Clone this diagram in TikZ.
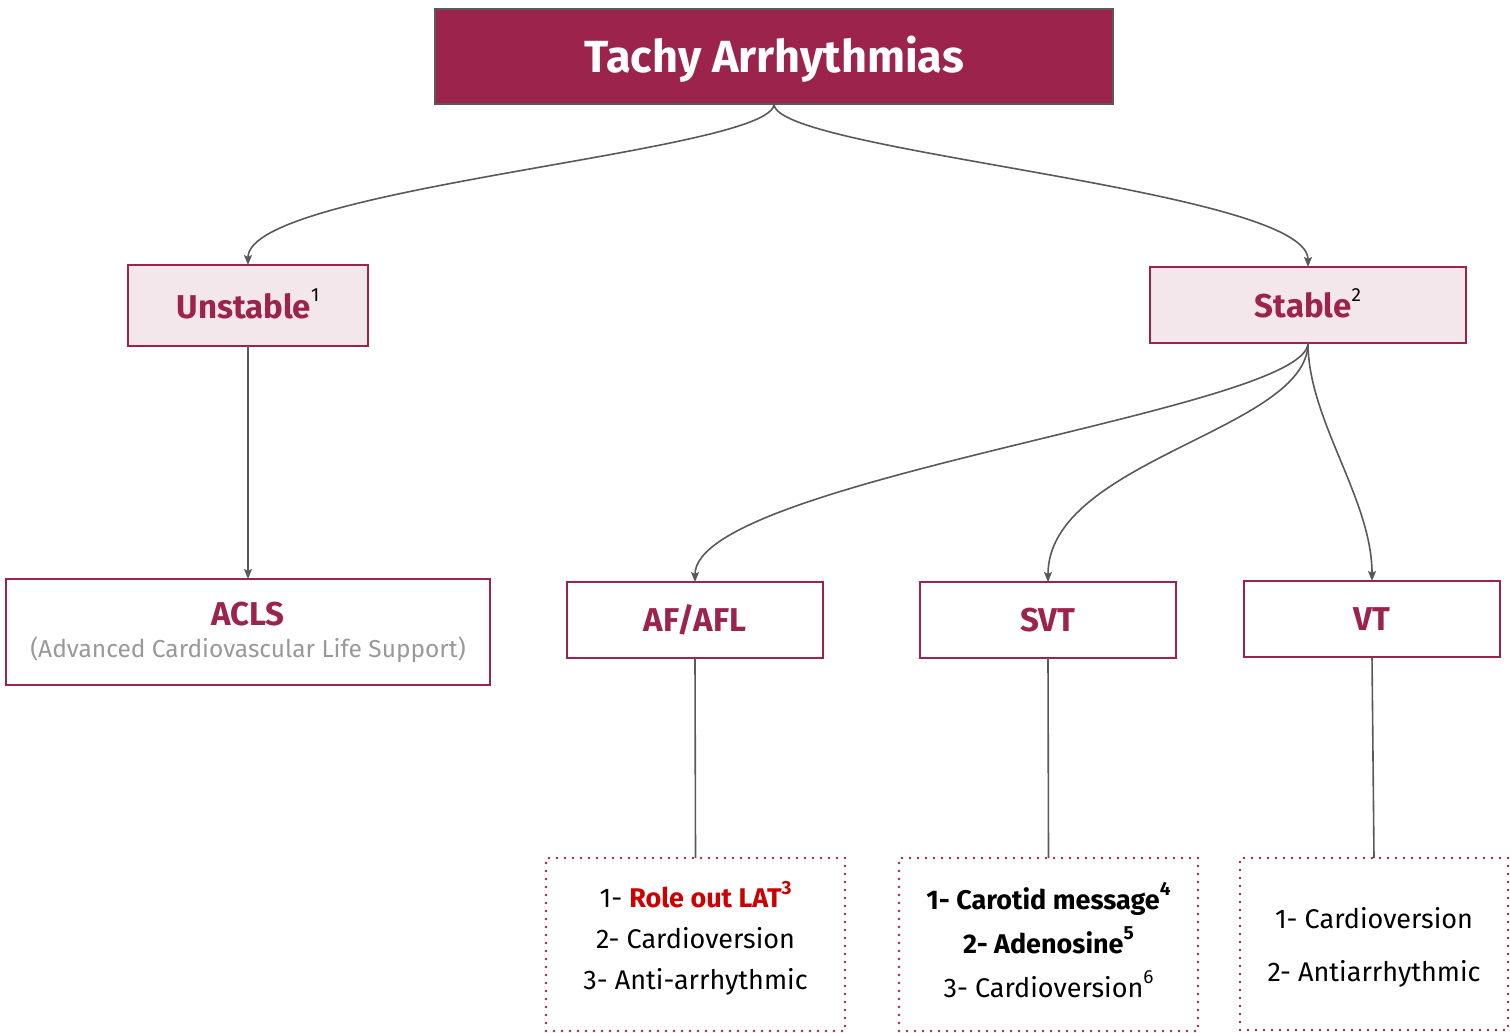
\documentclass[tikz,border=0pt]{standalone}
\usepackage{fontspec}
\setmainfont{Fira Sans}
\usetikzlibrary{arrows.meta}
\definecolor{crim}{HTML}{9C244C}
\definecolor{pinkfill}{HTML}{F4E7EC}
\definecolor{conn}{HTML}{595959}
\definecolor{redt}{HTML}{CC0000}
\definecolor{greyt}{HTML}{999999}
\newcommand\mysup[1]{\raisebox{0.5em}{\fontsize{19}{19}\selectfont #1}}
\newcommand\moreht[2]{\raisebox{0pt}[\dimexpr\height+#1\relax][\depth]{#2}}
\newcommand\moredp[2]{\raisebox{0pt}[\height][\dimexpr\depth+#1\relax]{#2}}
\tikzset{
  titlebox/.style={draw=conn, line width=2pt, fill=crim, text=white, minimum width=678pt, minimum height=95pt, inner sep=0pt, outer sep=0pt, font=\fontsize{45}{48}\selectfont\bfseries},
  levelbox/.style={draw=crim, line width=2pt, fill=pinkfill, text=crim, inner sep=0pt, outer sep=0pt, font=\fontsize{33}{36}\selectfont\bfseries},
  kindbox/.style={draw=crim, line width=2pt, fill=white, text=crim, inner sep=0pt, outer sep=0pt, minimum width=256pt, minimum height=76pt, font=\fontsize{33}{36}\selectfont\bfseries},
  dotbox/.style={draw=crim, line width=2.6pt, dash pattern=on 0pt off 8pt, line cap=round, inner sep=0pt, outer sep=0pt, align=center, text=black, minimum width=299pt, minimum height=173pt},
  conn/.style={draw=conn, line width=1.6pt},
  arr/.style={conn, -{Stealth[length=10pt,width=8pt,inset=2pt]}}
}
\begin{document}
\begin{tikzpicture}[x=1pt,y=-1pt]
\useasboundingbox (0,0) rectangle (1510,1033);
\node[titlebox] (title) at (774,56.5) {\moreht{6pt}{Tachy Arrhythmias}};
\node[levelbox, minimum width=240pt, minimum height=81pt] (unstable) at (248,305.5) {\moredp{3pt}{Unstable{\normalfont\color{black}\mysup{1}}}};
\node[levelbox, minimum width=316pt, minimum height=76pt] (stable) at (1308,305) {\moredp{3pt}{Stable{\normalfont\color{black}\mysup{2}}}};
\node[kindbox, minimum width=484pt, minimum height=106pt, align=center] (acls) at (248,632) {ACLS\\[-4pt]{\fontsize{24.5}{26}\selectfont\normalfont\color{greyt}(Advanced Cardiovascular Life Support)}};
\node[kindbox] (af) at (695,620) {AF/AFL};
\node[kindbox] (svt) at (1048,620) {SVT};
\node[kindbox] (vt) at (1372,619) {VT};
\node[dotbox, font=\fontsize{27}{41}\selectfont] (afl) at (695.5,944.5) {1- {\bfseries\color{redt}Role out LAT\mysup{3}}\\2- Cardioversion\\\moredp{12pt}{3- Anti-arrhythmic}};
\node[dotbox, font=\fontsize{27}{44}\selectfont] (svtl) at (1048.5,944.5) {{\bfseries 1- Carotid message\mysup{4}}\\{\bfseries 2- Adenosine\mysup{5}}\\\moredp{9pt}{3- Cardioversion\mysup{6}}};
\node[dotbox, font=\fontsize{27}{53}\selectfont, minimum width=268pt, minimum height=172pt] (vtl) at (1374,944) {\moreht{6pt}{1- Cardioversion}\\2- Antiarrhythmic};
\draw[arr] (title.south) .. controls +(0,48) and +(0,-78) .. (unstable.north);
\draw[arr] (title.south) .. controls +(0,48) and +(0,-78) .. (stable.north);
\draw[arr] (unstable.south) -- (acls.north);
\draw[arr] (stable.south) .. controls +(0,67) and +(0,-102) .. (af.north);
\draw[arr] (stable.south) .. controls +(0,87) and +(0,-122) .. (svt.north);
\draw[arr] (stable.south) .. controls +(0,77) and +(0,-82) .. (vt.north);
\draw[conn] (af.south) -- (afl.north);
\draw[conn] (svt.south) -- (svtl.north);
\draw[conn] (vt.south) -- (vtl.north);
\end{tikzpicture}
\end{document}
